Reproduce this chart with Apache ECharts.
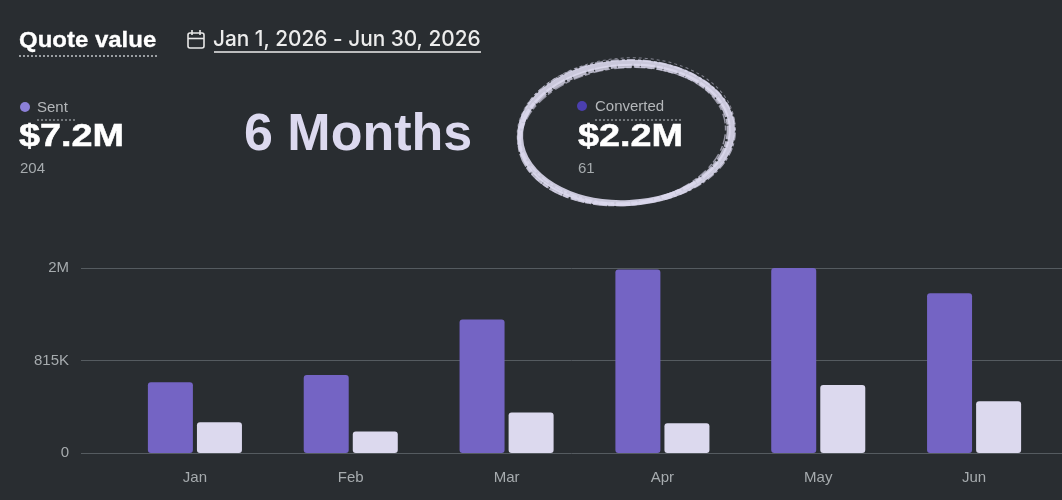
<!DOCTYPE html>
<html>
<head>
<meta charset="utf-8">
<script src="https://cdn.jsdelivr.net/npm/echarts@6/dist/echarts.min.js"></script>
<style>
html,body{margin:0;padding:0;background:#292d31;}
#main{width:1062px;height:500px;}
</style>
</head>
<body>
<div id="main"></div>
<script>
var months = ['Jan', 'Feb', 'Mar', 'Apr', 'May', 'Jun'];
var sentValues = [623000, 688000, 1177000, 1616000, 1630000, 1408000];
var convertedValues = [272000, 190000, 357000, 263000, 600000, 457000];
var yTicks = [0, 815000, 1630000];
var yTickLabels = ['0', '815K', '2M'];

var bg = '#292d31';
var sentColor = '#7464c4';
var convColor = '#dcd9ee';
var gridColor = '#555b60';
var labelColor = '#a6abae';
var ink = '#dcd9ee';
var uiFont = "Inter, 'Liberation Sans', sans-serif";
var axisFont = "'Liberation Sans', Arial, sans-serif";

var chart = echarts.init(document.getElementById('main'));

function tickLabel(v) {
  var i = yTicks.indexOf(v);
  return i < 0 ? '' : yTickLabels[i];
}

// heavy wide text, stretched a bit to get the look of the original font
function wideText(x, y, txt, size, sx, color, weight) {
  return {
    type: 'text', x: x, y: y, scaleX: sx,
    style: {
      text: txt, fill: color, stroke: color, lineWidth: weight,
      font: 'bold ' + size + 'px ' + axisFont, align: 'left', verticalAlign: 'middle'
    }
  };
}

// rough brush ring: a few offset ellipses on top of each other
function ring(dx, dy, rx, ry, rot, w, op, dash) {
  return {
    type: 'ellipse', x: 626 + dx, y: 133 + dy, rotation: rot,
    shape: { cx: 0, cy: 0, rx: rx, ry: ry },
    style: { fill: 'none', stroke: ink, lineWidth: w, opacity: op, lineDash: dash || null }
  };
}

var option = {
  backgroundColor: bg,
  animation: false,
  textStyle: { fontFamily: axisFont },
  grid: [
    { left: 81, right: 0, top: 268, bottom: 47 },
    { left: 117, right: 10, top: 268, bottom: 47 }
  ],
  xAxis: [
    { gridIndex: 0, type: 'value', show: false, min: 0, max: 1 },
    {
      gridIndex: 1, type: 'category', data: months,
      axisLine: { show: false }, axisTick: { show: false },
      axisLabel: { color: labelColor, fontSize: 15, margin: 17 }
    }
  ],
  yAxis: [
    {
      gridIndex: 0, type: 'value', min: 0, max: yTicks[2], interval: yTicks[1],
      axisLine: { show: false }, axisTick: { show: false },
      splitLine: { lineStyle: { color: gridColor, width: 1 } },
      axisLabel: { color: labelColor, fontSize: 15, margin: 12, formatter: tickLabel }
    },
    {
      gridIndex: 1, type: 'value', min: 0, max: yTicks[2], interval: yTicks[1],
      show: false
    }
  ],
  series: [
    {
      name: 'Sent', type: 'bar', xAxisIndex: 1, yAxisIndex: 1,
      data: sentValues, barWidth: 45, barGap: '9%',
      itemStyle: { color: sentColor, borderRadius: 3 }
    },
    {
      name: 'Converted', type: 'bar', xAxisIndex: 1, yAxisIndex: 1,
      data: convertedValues, barWidth: 45, barGap: '9%',
      itemStyle: { color: convColor, borderRadius: 3 }
    }
  ],
  graphic: [
    // header
    wideText(19, 41, 'Quote value', 22, 1.09, '#ffffff', 0.3),
    { type: 'line', shape: { x1: 19, y1: 56, x2: 158, y2: 56 }, style: { stroke: '#9a9ea2', lineWidth: 2, lineDash: [2, 2] } },
    { type: 'rect', shape: { x: 188, y: 33, width: 16, height: 15, r: 2 }, style: { fill: 'none', stroke: '#e8e8e8', lineWidth: 1.6 } },
    { type: 'line', shape: { x1: 188, y1: 38.5, x2: 204, y2: 38.5 }, style: { stroke: '#e8e8e8', lineWidth: 1.6 } },
    { type: 'line', shape: { x1: 192, y1: 30, x2: 192, y2: 35 }, style: { stroke: '#e8e8e8', lineWidth: 1.6 } },
    { type: 'line', shape: { x1: 200, y1: 30, x2: 200, y2: 35 }, style: { stroke: '#e8e8e8', lineWidth: 1.6 } },
    { type: 'text', left: 213, top: 29, style: { text: 'Jan 1, 2026 - Jun 30, 2026', fill: '#ececec', font: '500 20.8px ' + uiFont } },
    { type: 'line', shape: { x1: 214, y1: 52, x2: 481, y2: 52 }, style: { stroke: '#ececec', lineWidth: 1.5 } },

    // sent stat
    { type: 'circle', shape: { cx: 25, cy: 107, r: 5 }, style: { fill: '#8c80d8' } },
    { type: 'text', left: 37, top: 100, style: { text: 'Sent', fill: '#b4b7ba', font: '15px ' + axisFont } },
    { type: 'line', shape: { x1: 37, y1: 120, x2: 75, y2: 120 }, style: { stroke: '#8d9195', lineWidth: 1.5, lineDash: [2, 2] } },
    wideText(19, 137, '$7.2M', 31, 1.22, '#ffffff', 0.5),
    { type: 'text', left: 20, top: 161, style: { text: '204', fill: '#a6abae', font: '15px ' + axisFont } },

    // period
    { type: 'text', left: 244, top: 110, style: { text: '6 Months', fill: '#dcd9ef', font: 'bold 52px ' + axisFont } },

    // converted stat
    { type: 'circle', shape: { cx: 582, cy: 106, r: 5 }, style: { fill: '#4b3fae' } },
    { type: 'text', left: 595, top: 99, style: { text: 'Converted', fill: '#b4b7ba', font: '15px ' + axisFont } },
    { type: 'line', shape: { x1: 595, y1: 120, x2: 682, y2: 120 }, style: { stroke: '#8d9195', lineWidth: 1.5, lineDash: [2, 2] } },
    wideText(578, 137, '$2.2M', 31, 1.22, '#ffffff', 0.5),
    { type: 'text', left: 578, top: 161, style: { text: '61', fill: '#a6abae', font: '15px ' + axisFont } },

    // hand drawn circle
    ring(0, 0, 106, 70, 0.05, 6, 0.9),
    ring(-2, 2, 105, 69, 0.09, 4, 0.8, [14, 2, 6, 1]),
    ring(1, -1, 108, 72, 0.02, 2, 0.7, [8, 3, 3, 2]),
    ring(-3, 3, 103, 68, 0.12, 1.5, 0.6, [5, 4, 10, 2]),
    ring(0, -2, 109, 73, 0.07, 1, 0.5, [3, 3])
  ]
};

chart.setOption(option);
</script>
</body>
</html>
